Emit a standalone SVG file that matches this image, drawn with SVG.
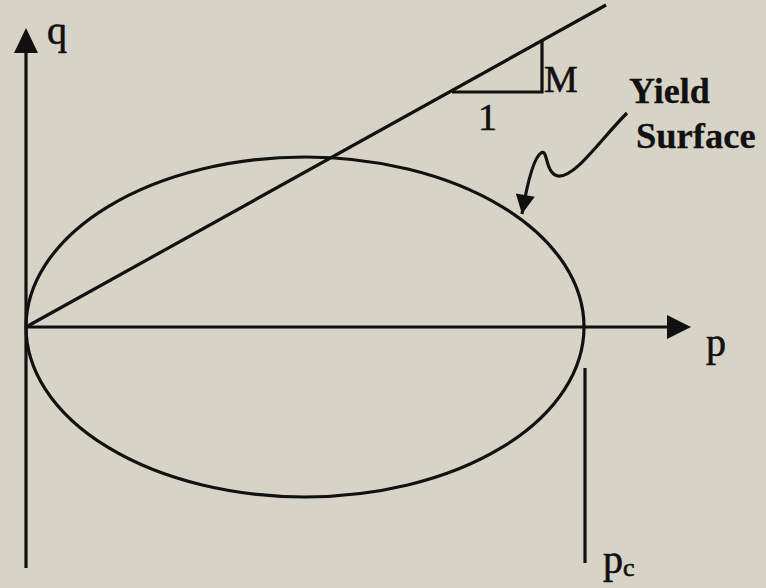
<svg xmlns="http://www.w3.org/2000/svg" width="766" height="588" viewBox="0 0 766 588">
<defs>
<style>
.ln{fill:none;stroke:#111;stroke-width:3.2}
.tx{font-family:"Liberation Serif","Times New Roman",serif;fill:#111;stroke:#111;stroke-width:0.6}
.bd{font-weight:bold;stroke-width:0.3}
</style>
<marker id="ah" viewBox="0 0 10 10" refX="10" refY="5" markerWidth="8" markerHeight="6" markerUnits="strokeWidth" orient="auto">
<path d="M0,0 L10,5 L0,10 z" fill="#111"/>
</marker>
</defs>
<rect width="766" height="588" fill="#d8d3c7"/>
<g id="axes">
<line class="ln" x1="26" y1="568" x2="26" y2="50"/>
<polygon points="26,28 14,53 38,53" fill="#111"/>
<line class="ln" x1="26" y1="327" x2="668" y2="327"/>
<polygon points="691,327 667,315 667,339" fill="#111"/>
<text class="tx" x="47" y="44" font-size="40">q</text>
<text class="tx" x="706" y="356" font-size="40">p</text>
</g>
<g id="yield-surface">
<ellipse class="ln" cx="305" cy="327" rx="279" ry="170"/>
</g>
<g id="csl">
<line class="ln" x1="26" y1="327" x2="606" y2="5"/>
<polyline class="ln" points="452,92 542,92 542,40"/>
<text class="tx" x="544" y="92" font-size="38">M</text>
<text class="tx" x="478" y="130" font-size="38">1</text>
</g>
<g id="pc">
<line class="ln" x1="585" y1="368" x2="585" y2="563"/>
<text class="tx" x="603" y="573" font-size="40">p<tspan font-size="26" dy="3">c</tspan></text>
</g>
<g id="label">
<text class="tx bd" x="629" y="103" font-size="36">Yield</text>
<text class="tx bd" x="636" y="148" font-size="36.5">Surface</text>
</g>
<g id="connectors">
<path class="ln" d="M627,113 C600,140 575,178 558,176 C545,174 548,148 541,153 C533,158 527,185 522,214" stroke-width="2.5" marker-end="url(#ah)"/>
</g>
</svg>
